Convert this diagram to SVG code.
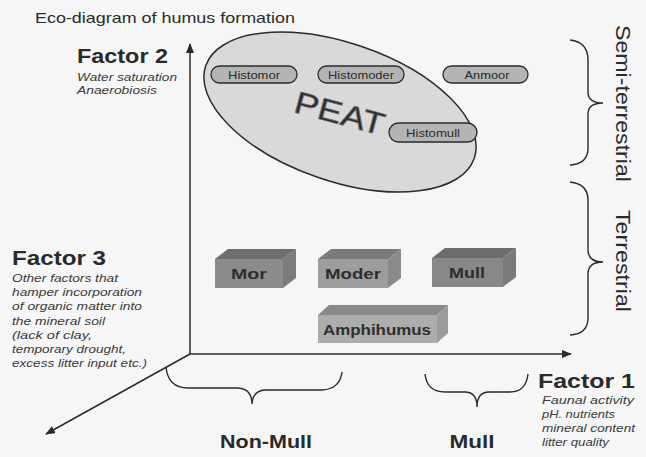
<svg xmlns="http://www.w3.org/2000/svg" width="646" height="457" viewBox="0 0 646 457">
<defs>
<marker id="arr" markerWidth="10" markerHeight="8" refX="9" refY="4" orient="auto" markerUnits="userSpaceOnUse">
<path d="M0,0 L10,4 L0,8 Z" fill="#2a2a2a"/>
</marker>
<style>
text{font-family:"Liberation Sans",Arial,sans-serif;fill:#2a2a2a}
.fac{font-size:20px;font-weight:bold}
.it{font-size:11px;font-style:italic;fill:#3a3a3a}
.pill rect{fill:#b4b4b4;stroke:#2a2a2a;stroke-width:1.3}
.pill text{font-size:11px;text-anchor:middle}
.box text{font-size:15px;font-weight:bold;text-anchor:middle;fill:#2e2e2e}
.axis{stroke:#2a2a2a;stroke-width:1.5;fill:none}
.brace{stroke:#2a2a2a;stroke-width:1.4;fill:none}
.big{font-size:19px;font-weight:bold;text-anchor:middle}
.side{font-size:21px}
</style>
</defs>
<rect width="646" height="457" fill="#f6f6f6"/>

<text x="35" y="23" font-size="15" textLength="260" lengthAdjust="spacingAndGlyphs">Eco-diagram of humus formation</text>

<g id="factor2">
<text class="fac" x="77" y="63" textLength="91" lengthAdjust="spacingAndGlyphs">Factor 2</text>
<text class="it" x="77" y="81" textLength="100" lengthAdjust="spacingAndGlyphs">Water saturation</text>
<text class="it" x="77" y="94" textLength="80" lengthAdjust="spacingAndGlyphs">Anaerobiosis</text>
</g>

<g id="factor3">
<text class="fac" x="12" y="265" textLength="94" lengthAdjust="spacingAndGlyphs">Factor 3</text>
<text class="it" x="12" y="282" textLength="106" lengthAdjust="spacingAndGlyphs">Other factors that</text>
<text class="it" x="12" y="296" textLength="130" lengthAdjust="spacingAndGlyphs">hamper incorporation</text>
<text class="it" x="12" y="310" textLength="130" lengthAdjust="spacingAndGlyphs">of organic matter into</text>
<text class="it" x="12" y="325" textLength="93" lengthAdjust="spacingAndGlyphs">the mineral soil</text>
<text class="it" x="12" y="339" textLength="80" lengthAdjust="spacingAndGlyphs">(lack of clay,</text>
<text class="it" x="12" y="353" textLength="114" lengthAdjust="spacingAndGlyphs">temporary drought,</text>
<text class="it" x="12" y="367" textLength="135" lengthAdjust="spacingAndGlyphs">excess litter input etc.)</text>
</g>

<g id="factor1">
<text class="fac" x="538" y="388" textLength="97" lengthAdjust="spacingAndGlyphs">Factor 1</text>
<text class="it" x="542" y="404" textLength="92" lengthAdjust="spacingAndGlyphs">Faunal activity</text>
<text class="it" x="542" y="418" textLength="73" lengthAdjust="spacingAndGlyphs">pH. nutrients</text>
<text class="it" x="542" y="432" textLength="93" lengthAdjust="spacingAndGlyphs">mineral content</text>
<text class="it" x="542" y="446" textLength="67" lengthAdjust="spacingAndGlyphs">litter quality</text>
</g>

<g id="peat">
<ellipse cx="340" cy="112" rx="142" ry="69" transform="rotate(19 340 112)" fill="#d9d9d9" stroke="#2a2a2a" stroke-width="1.5"/>
<text x="340" y="124" font-size="31" text-anchor="middle" fill="#b0b0b0" stroke="#6a6a6a" stroke-width="0.8" textLength="92" lengthAdjust="spacingAndGlyphs" transform="rotate(15 340 112)">PEAT</text>
</g>

<g id="histomor" class="pill"><rect x="211" y="66" width="86" height="17" rx="8.5"/><text x="254" y="78.5" textLength="52" lengthAdjust="spacingAndGlyphs">Histomor</text></g>
<g id="histomoder" class="pill"><rect x="318" y="66" width="86" height="17" rx="8.5"/><text x="361" y="78.5" textLength="66" lengthAdjust="spacingAndGlyphs">Histomoder</text></g>
<g id="anmoor" class="pill"><rect x="443" y="66" width="85" height="17" rx="8.5"/><text x="487" y="78.5" textLength="45" lengthAdjust="spacingAndGlyphs">Anmoor</text></g>
<g id="histomull" class="pill"><rect x="389" y="123" width="88" height="19" rx="9.5"/><text x="433" y="136.5" textLength="54" lengthAdjust="spacingAndGlyphs">Histomull</text></g>

<g id="mor" class="box">
<polygon points="215,259 228,249 296,249 283,259" fill="#6e6e6e"/>
<polygon points="283,259 296,249 296,278 283,288" fill="#7c7c7c"/>
<rect x="215" y="259" width="68" height="29" fill="#8b8b8b"/>
<text x="249" y="279" textLength="36" lengthAdjust="spacingAndGlyphs">Mor</text>
</g>
<g id="moder" class="box">
<polygon points="318,259 331,249 401,249 388,259" fill="#7a7a7a"/>
<polygon points="388,259 401,249 401,278 388,288" fill="#8a8a8a"/>
<rect x="318" y="259" width="70" height="29" fill="#9d9d9d"/>
<text x="353" y="279" textLength="56" lengthAdjust="spacingAndGlyphs">Moder</text>
</g>
<g id="mull" class="box">
<polygon points="432,258 445,248 516,248 503,258" fill="#6c6c6c"/>
<polygon points="503,258 516,248 516,277 503,287" fill="#7a7a7a"/>
<rect x="432" y="258" width="71" height="29" fill="#888"/>
<text x="467" y="278" textLength="36" lengthAdjust="spacingAndGlyphs">Mull</text>
</g>
<g id="amphihumus" class="box">
<polygon points="318,315 329,305 448,305 437,315" fill="#8a8a8a"/>
<polygon points="437,315 448,305 448,333 437,343" fill="#9c9c9c"/>
<rect x="318" y="315" width="119" height="28" fill="#adadad"/>
<text x="377" y="335" textLength="108" lengthAdjust="spacingAndGlyphs">Amphihumus</text>
</g>

<g id="connectors">
<line class="axis" x1="190" y1="354" x2="190" y2="44" marker-end="url(#arr)"/>
<line class="axis" x1="190" y1="354" x2="571" y2="354" marker-end="url(#arr)"/>
<line class="axis" x1="190" y1="354" x2="46" y2="434" marker-end="url(#arr)"/>
<path class="brace" d="M570,40 Q588,42 588,60 L588,92 Q588,103 603,103 Q588,103 588,114 L588,148 Q588,164 570,165"/>
<path class="brace" d="M570,182 Q588,184 588,200 L588,250 Q588,262 603,262 Q588,262 588,274 L588,318 Q588,334 570,335"/>
<path class="brace" d="M166,367 Q168,388 188,388 L238,388 Q252,389 252,404 Q253,390 266,390 L322,390 Q340,389 342,372"/>
<path class="brace" d="M425,374 Q427,392 445,392 L465,392 Q477,392 477,407 Q477,392 489,392 L510,392 Q526,392 528,374"/>
</g>

<g id="labels">
<text class="big" x="266" y="448" textLength="92" lengthAdjust="spacingAndGlyphs">Non-Mull</text>
<text class="big" x="472" y="448" textLength="45" lengthAdjust="spacingAndGlyphs">Mull</text>
<text class="side" transform="translate(616 25) rotate(90)" x="0" y="0" textLength="157" lengthAdjust="spacingAndGlyphs">Semi-terrestrial</text>
<text class="side" transform="translate(616 210) rotate(90)" x="0" y="0" textLength="102" lengthAdjust="spacingAndGlyphs">Terrestrial</text>
</g>
</svg>
